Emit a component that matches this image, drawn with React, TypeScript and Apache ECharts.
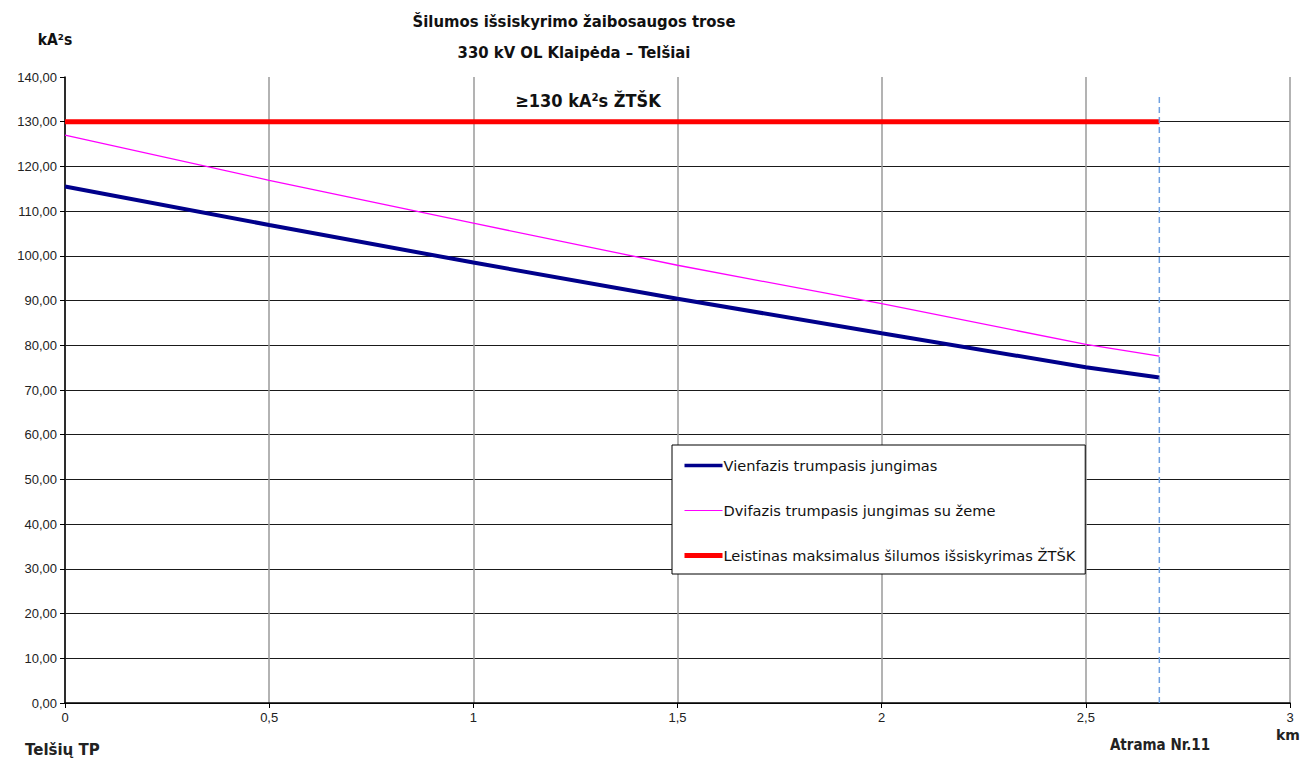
import React, { useEffect, useRef } from "react";
import * as echarts from "echarts";

const xPoints: number[] = [0, 0.5, 1, 1.5, 2, 2.5, 2.68];
const singlePhase: number[] = [115.5, 106.9, 98.5, 90.4, 82.7, 75.1, 72.8];
const twoPhase: number[] = [127.0, 116.9, 107.3, 97.9, 89.3, 80.2, 77.6];
const limitX: number[] = [0, 2.68];
const limitY: number[] = [130, 130];
const markerX: number[] = [2.68, 2.68];
const markerY: number[] = [0, 136.2];

const seriesNames: string[] = [
  "Vienfazis trumpasis jungimas",
  "Dvifazis trumpasis jungimas su žeme",
  "Leistinas maksimalus šilumos išsiskyrimas ŽTŠK",
];
const seriesColors: string[] = ["#00008b", "#ff00ff", "#ff0000"];
const seriesWidths: number[] = [4, 1.3, 5];
const legendWidths: number[] = [3.5, 1.2, 5];

const titleLines: string[] = [
  "Šilumos išsiskyrimo žaibosaugos trose",
  "330 kV OL Klaipėda – Telšiai",
];

const condFont = '"DejaVu Sans Condensed", "DejaVu Sans", sans-serif';
const bodyFont = '"Liberation Sans", Arial, sans-serif';
const wideFont = '"DejaVu Sans", Verdana, sans-serif';

export default function App() {
  const ref = useRef<HTMLDivElement>(null);
  useEffect(() => {
    if (!ref.current) return;
    const chart = echarts.init(ref.current, undefined, { renderer: "svg" });
    const pair = (xs: number[], ys: number[]) => xs.map((x, i) => [x, ys[i]]);
    const yLineColors: string[] = [];
    for (let i = 0; i < 14; i++) yLineColors.push("#1a1a1a");
    yLineColors.push("rgba(0,0,0,0)");
    chart.setOption({
      animation: false,
      backgroundColor: "#fff",
      grid: { left: 65, right: 12, top: 77, bottom: 57, containLabel: false },
      xAxis: {
        type: "value",
        min: 0,
        max: 3,
        interval: 0.5,
        axisLine: { show: true, onZero: false, lineStyle: { color: "#000", width: 1.5 } },
        axisTick: { show: true, length: 5, lineStyle: { color: "#000" } },
        axisLabel: {
          margin: 8,
          color: "#222",
          fontSize: 13,
          fontFamily: bodyFont,
          formatter: (v: number) => String(v).replace(".", ","),
        },
        splitLine: { show: true, lineStyle: { color: "#9a9a9a", width: 1.5 } },
      },
      yAxis: {
        type: "value",
        min: 0,
        max: 140,
        interval: 10,
        axisLine: { show: true, onZero: false, lineStyle: { color: "#000", width: 1.5 } },
        axisTick: { show: true, length: 5, lineStyle: { color: "#000" } },
        axisLabel: {
          margin: 8,
          color: "#222",
          fontSize: 13,
          fontFamily: bodyFont,
          formatter: (v: number) => v.toFixed(2).replace(".", ","),
        },
        splitLine: { show: true, lineStyle: { color: yLineColors, width: 1.2 } },
      },
      legend: {
        data: seriesNames.map((n, i) => ({
          name: n,
          lineStyle: { width: legendWidths[i], color: seriesColors[i] },
        })),
        orient: "vertical",
        left: 672,
        top: 445,
        itemWidth: 38,
        itemHeight: 14,
        itemGap: 30,
        padding: [13, 10, 11, 10],
        backgroundColor: "#fff",
        borderColor: "#000",
        borderWidth: 1,
        borderRadius: 0,
        itemStyle: { opacity: 0 },
        textStyle: { color: "#111", fontSize: 14.6, fontFamily: wideFont, padding: [0, 0, 0, -4] },
        selectedMode: false,
      },
      series: [
        {
          name: seriesNames[0],
          type: "line",
          data: pair(xPoints, singlePhase),
          symbol: "none",
          lineStyle: { color: seriesColors[0], width: seriesWidths[0] },
          itemStyle: { color: seriesColors[0] },
          z: 3,
        },
        {
          name: seriesNames[1],
          type: "line",
          data: pair(xPoints, twoPhase),
          symbol: "none",
          lineStyle: { color: seriesColors[1], width: seriesWidths[1] },
          itemStyle: { color: seriesColors[1] },
          z: 3,
        },
        {
          name: seriesNames[2],
          type: "line",
          data: pair(limitX, limitY),
          symbol: "none",
          lineStyle: { color: seriesColors[2], width: seriesWidths[2] },
          itemStyle: { color: seriesColors[2] },
          z: 4,
        },
        {
          name: "marker",
          type: "line",
          data: pair(markerX, markerY),
          symbol: "none",
          lineStyle: { color: "#6fa0e0", width: 1.5, type: [6, 4] },
          z: 5,
        },
      ],
      graphic: [
        {
          type: "text",
          x: 574,
          y: 21,
          style: { text: titleLines[0], font: `bold 16.5px ${condFont}`, fill: "#111", textAlign: "center", textVerticalAlign: "middle" },
        },
        {
          type: "text",
          x: 574,
          y: 52,
          style: { text: titleLines[1], font: `bold 16.5px ${condFont}`, fill: "#111", textAlign: "center", textVerticalAlign: "middle" },
        },
        {
          type: "text",
          x: 55,
          y: 40,
          style: { text: "kA²s", font: `bold 15.5px ${condFont}`, fill: "#111", textAlign: "center", textVerticalAlign: "middle" },
        },
        {
          type: "text",
          x: 588,
          y: 100,
          z: 10,
          style: { text: "≥130 kA²s ŽTŠK", font: `bold 18px ${condFont}`, fill: "#111", textAlign: "center", textVerticalAlign: "middle" },
        },
        {
          type: "text",
          x: 25,
          y: 750,
          style: { text: "Telšių TP", font: `bold 15px ${wideFont}`, fill: "#222", textAlign: "left", textVerticalAlign: "middle" },
        },
        {
          type: "text",
          x: 1160,
          y: 745,
          style: { text: "Atrama Nr.11", font: `bold 15px ${condFont}`, fill: "#222", textAlign: "center", textVerticalAlign: "middle" },
        },
        {
          type: "text",
          x: 1288,
          y: 735,
          style: { text: "km", font: `bold 14px ${wideFont}`, fill: "#222", textAlign: "center", textVerticalAlign: "middle" },
        },
      ],
    });
    return () => chart.dispose();
  }, []);
  return (
    <div
      ref={ref}
      style={{ position: "fixed", left: 0, top: 0, width: 1302, height: 760 }}
    />
  );
}
